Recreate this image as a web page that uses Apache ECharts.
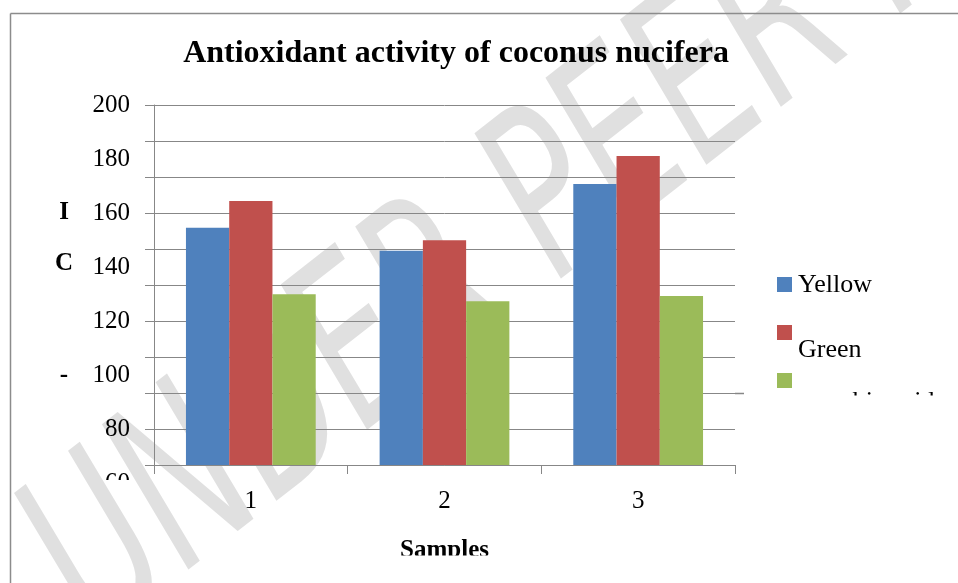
<!DOCTYPE html>
<html><head><meta charset="utf-8">
<script src="https://cdn.jsdelivr.net/npm/echarts@6/dist/echarts.min.js"></script>
<style>html,body{margin:0;padding:0;background:#fff}#c{width:958px;height:583px}</style>
</head><body><div id="c"></div>
<script>
const categories = ['1', '2', '3'];
const yellow = [154.5, 146.0, 170.7];
const green = [164.4, 149.9, 181.1];
const ascorbic = [129.9, 127.3, 129.3];
const seriesNames = ['Yellow', 'Green', 'ascorbic acid'];
const yTickLabels = [80, 100, 120, 140, 160, 180, 200];
const clippedTickLabel = 60;
const chartTitle = 'Antioxidant activity of coconus nucifera';
const xAxisTitle = 'Samples';
const yAxisTitleChars = ['I', 'C', '-'];
const watermarkText = 'UNDER PEER REVIEW';

const colors = ['#4F81BD', '#C0504D', '#9BBB59'];
const gray = '#878787';
const serif = '"Liberation Serif", "Times New Roman", serif';
const yMax = 200, yStep = 40 / 3, yMin = yMax - 10 * yStep;

const chart = echarts.init(document.getElementById('c'), null, {renderer: 'canvas'});

function mkSeries(name, data, color) {
  return {
    name: name, type: 'bar', data: data, barGap: 0, barCategoryGap: '33%',
    itemStyle: {color: color}, emphasis: {disabled: true}, animation: false
  };
}

chart.setOption({
  animation: false,
  backgroundColor: '#fff',
  grid: {left: 154, top: 105, width: 581, height: 360, containLabel: false},
  xAxis: {
    type: 'category', data: categories,
    axisLine: {show: true, lineStyle: {color: gray, width: 1}},
    axisTick: {show: true, length: 9, lineStyle: {color: gray}},
    axisLabel: {margin: 24, fontFamily: serif, fontSize: 25, color: '#000'},
    splitLine: {show: false}
  },
  yAxis: {
    type: 'value', min: yMin, max: yMax, interval: yStep,
    axisLine: {show: true, lineStyle: {color: gray, width: 1}},
    axisTick: {show: true, length: 9, lineStyle: {color: gray}},
    axisLabel: {customValues: yTickLabels, margin: 24, fontFamily: serif, fontSize: 25, color: '#000'},
    splitLine: {show: true, lineStyle: {color: gray, width: 1}}
  },
  series: [
    mkSeries(seriesNames[0], yellow, colors[0]),
    mkSeries(seriesNames[1], green, colors[1]),
    mkSeries(seriesNames[2], ascorbic, colors[2])
  ]
});

const y60 = chart.convertToPixel({yAxisIndex: 0}, clippedTickLabel);
const yExt = chart.convertToPixel({yAxisIndex: 0}, yMin + 2 * yStep);

const g = [];
// watermark (behind everything)
g.push({type: 'text', x: 133, y: 683, rotation: 38 * Math.PI / 180, scaleX: 0.65, scaleY: 1, z: -1,
  style: {text: watermarkText, font: 'italic 230px "DejaVu Sans"', fill: '#e0e0e0',
    textAlign: 'left', textVerticalAlign: 'bottom'}});
// frame
g.push({type: 'line', z: -1, shape: {x1: 10.5, y1: 13.5, x2: 958, y2: 13.5}, style: {stroke: '#8c8c8c', lineWidth: 1.5}});
g.push({type: 'line', z: -1, shape: {x1: 10.5, y1: 13.5, x2: 10.5, y2: 583}, style: {stroke: '#8c8c8c', lineWidth: 1.5}});
// title
g.push({type: 'text', x: 456, y: 54, z: 5,
  style: {text: chartTitle, font: 'bold 32px ' + serif, fill: '#000', textAlign: 'center', textVerticalAlign: 'middle'}});
// y-axis title characters
const yTitlePos = [213, 264, 376];
yAxisTitleChars.forEach((ch, i) => {
  g.push({type: 'text', x: 64, y: yTitlePos[i], z: 5,
    style: {text: ch, font: 'bold 25px ' + serif, fill: '#000', textAlign: 'center', textVerticalAlign: 'middle'}});
});
// clipped "60" tick label
g.push({type: 'text', x: 130, y: y60, z: -10,
  style: {text: String(clippedTickLabel), font: '25px ' + serif, fill: '#000', textAlign: 'right', textVerticalAlign: 'middle'}});
g.push({type: 'rect', z: -5, shape: {x: 95, y: 480, width: 48, height: 16}, style: {fill: '#fff'}});
// x-axis title (clipped)
g.push({type: 'text', x: 444.5, y: 551, z: -10,
  style: {text: xAxisTitle, font: 'bold 25px ' + serif, fill: '#000', textAlign: 'center', textVerticalAlign: 'middle'}});
g.push({type: 'rect', z: -5, shape: {x: 370, y: 555.5, width: 150, height: 30}, style: {fill: '#fff'}});
// legend
const legY = [277, 325, 373];
const legTextPos = [[798, 285], [798, 350], [798, 402]];
seriesNames.forEach((n, i) => {
  g.push({type: 'rect', z: 5, shape: {x: 777, y: legY[i], width: 15, height: 15}, style: {fill: colors[i]}});
  g.push({type: 'text', x: legTextPos[i][0], y: legTextPos[i][1], z: -10,
    style: {text: n, font: '26px ' + serif, fill: '#000', textAlign: 'left', textVerticalAlign: 'middle'}});
});
g.push({type: 'rect', z: -5, shape: {x: 794, y: 395.5, width: 164, height: 30}, style: {fill: '#fff'}});
// small extension of gridline near legend
g.push({type: 'line', z: 5, shape: {x1: 735, y1: Math.round(yExt) + 0.5, x2: 744, y2: Math.round(yExt) + 0.5}, style: {stroke: gray, lineWidth: 1.5}});

chart.setOption({graphic: {elements: g}});
</script>
</body></html>
